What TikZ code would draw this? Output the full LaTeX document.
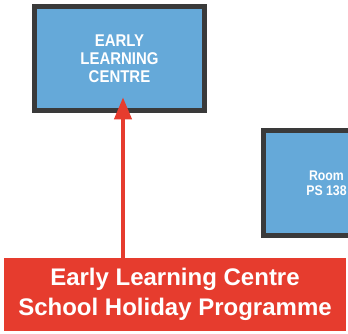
\documentclass[tikz,border=0pt]{standalone}
\usepackage{fontspec}
\setsansfont{Liberation Sans}
\newfontfamily\narrowsf[FakeStretch=0.88]{Liberation Sans}
\usetikzlibrary{arrows.meta,positioning,calc}
\definecolor{ink}{HTML}{3A3A3A}
\definecolor{skyfill}{HTML}{65A9D9}
\definecolor{signred}{HTML}{E63C2E}
\tikzset{
  every node/.style={font=\sffamily\bfseries, text=white},
  room/.style={draw=ink, fill=skyfill, line width=5.5bp, align=center, inner sep=0pt},
  banner/.style={fill=signred, align=center, inner sep=0pt},
  arr/.style={-{Triangle[length=22bp, width=17bp]}, draw=signred, line width=4bp},
}
\begin{document}
\begin{tikzpicture}[x=1bp, y=1bp]
  \useasboundingbox (0,0) rectangle (348,334);
  \clip (0,0) rectangle (348,334);

  % ---- rooms ---------------------------------------------------------------
  \node[room, minimum width=169.5bp, minimum height=103.5bp,
        font=\narrowsf\bfseries\fontsize{17bp}{18bp}\selectfont] (elc) at (119.5,275.5)
    {EARLY\\LEARNING\\CENTRE};
  \node[room, minimum width=125.5bp, minimum height=104.5bp,
        font=\narrowsf\bfseries\fontsize{14bp}{15bp}\selectfont] (ps) at (326.5,151)
    {Room\\PS 138};

  % ---- programme banner ----------------------------------------------------
  \node[banner, minimum width=342bp, minimum height=73bp,
        font=\sffamily\bfseries\fontsize{24bp}{30bp}\selectfont] (prog) at (175,39.5)
    {Early Learning Centre\\School Holiday Programme};

  % pointer into the centre
  \coordinate (tip) at (123,236.7);
  \draw[arr] (prog.north -| tip) -- (tip);
\end{tikzpicture}
\end{document}
